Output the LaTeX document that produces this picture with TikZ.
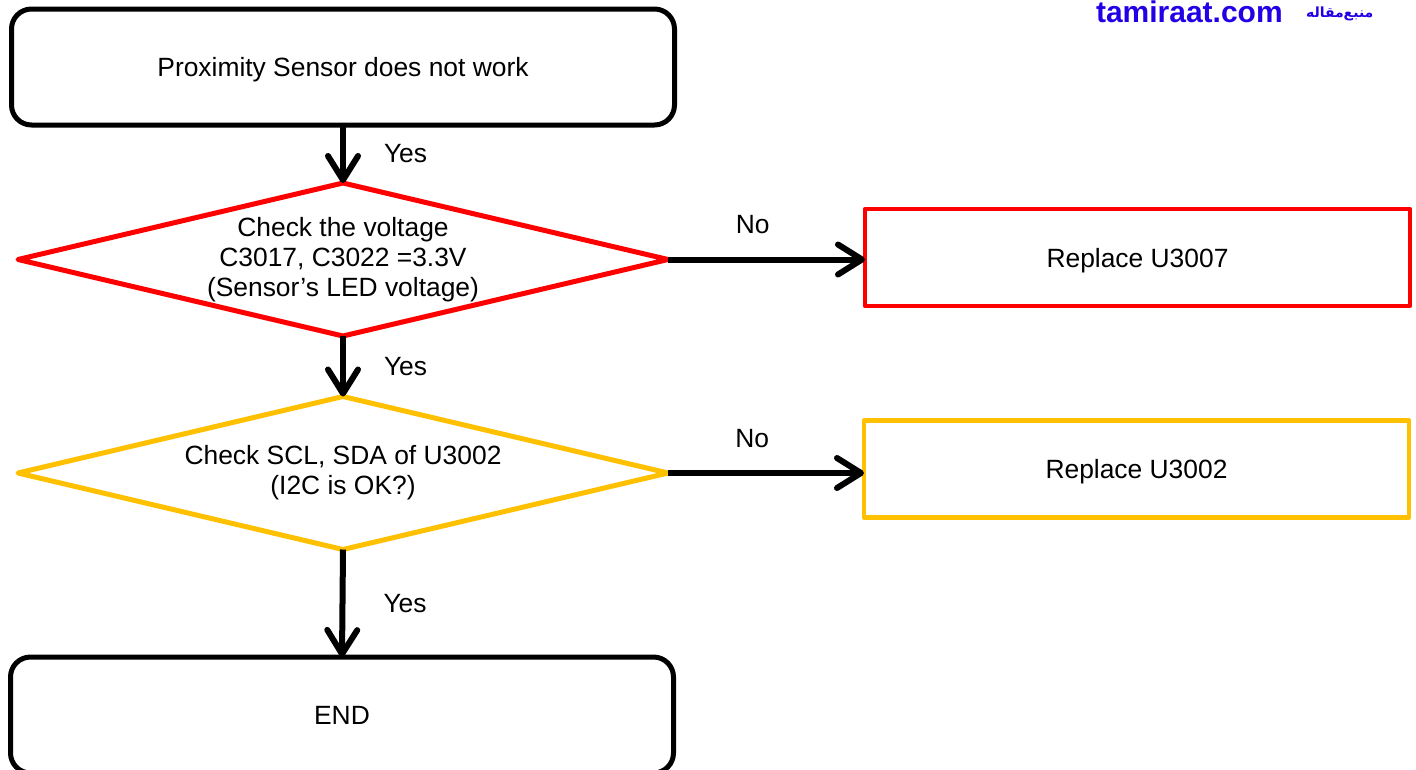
\documentclass[tikz,border=0pt]{standalone}
\usepackage{fontspec}
\setmainfont{Liberation Sans}
\newfontfamily\arabicfont[Script=Arabic]{DejaVu Sans}
\TeXXeTstate=1
\usetikzlibrary{shapes.geometric}
\usetikzlibrary{arrows.meta}
\definecolor{chkred}{RGB}{255,0,0}
\definecolor{chkgold}{RGB}{255,192,0}
\definecolor{tamblue}{RGB}{34,0,230}

\begin{document}
\begin{tikzpicture}[x=1pt, y=-1pt, line join = round,
        every node/.style={font=\fontsize{26.4}{30}\selectfont, align=center, inner sep=0pt, outer sep=0pt},
        endbox/.style={draw, rounded corners=20pt, line width=5pt, minimum width=663pt, minimum height=116pt, text depth=0pt},
        check/.style={diamond, aspect=4.25, draw=#1, line width=5pt, minimum width=650pt, minimum height=153pt},
        fixbox/.style={draw=#1, line width=4.5pt, minimum width=545pt, minimum height=97pt, text depth=0pt},
        flow/.style={line width=6pt, -{Straight Barb[length=24pt, width=30pt, line width=6pt, round]}}]
        \useasboundingbox (0,0) rectangle (1416,769);

        % boxes and checks
        \node[endbox] (start) at (343,67) {Proximity Sensor does not work};
        \node[check=chkred] (volt) at (343,259.5) {Check the voltage\\C3017, C3022 =3.3V\\(Sensor’s LED voltage)};
        \node[fixbox=chkred] (u3007) at (1137.5,257.5) {Replace U3007};
        \node[check=chkgold] (i2c) at (343,473) {Check SCL, SDA of U3002\\(I2C is OK?)};
        \node[fixbox=chkgold] (u3002) at (1136.5,469) {Replace U3002};
        \node[endbox] (end) at (342,715) {END};

        % connectors
        \draw[flow] (start.south) -- (volt.north) node[midway, right=41pt] {Yes};
        \draw[flow] (volt.south) -- (i2c.north) node[midway, right=41pt] {Yes};
        \draw[flow] (i2c.south) -- (end.north) node[midway, right=41pt] {Yes};
        \draw[flow] (volt.east) -- (volt.east -| u3007.west) node[pos=0.43, above=26pt] {No};
        \draw[flow] (i2c.east) -- (i2c.east -| u3002.west) node[pos=0.43, above=25pt] {No};

        % watermark
        \node[anchor=west, text=tamblue, font=\fontsize{30}{32}\selectfont\bfseries] (site) at (1096,12) {tamiraat.com};
        \node[anchor=west, text=tamblue, font=\fontsize{14}{16}\selectfont\bfseries] (src) at (1306,14) {\arabicfont\beginR منبع‌مقاله\endR};
\end{tikzpicture}
\end{document}
